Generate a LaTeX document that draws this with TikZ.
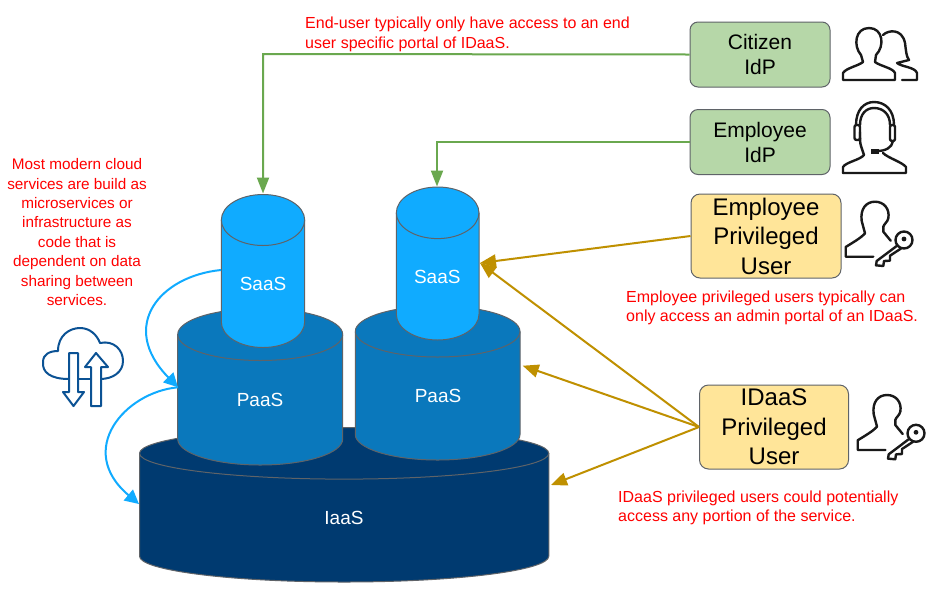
\documentclass[tikz,border=0pt]{standalone}
\usepackage{fontspec}
\setmainfont{Liberation Sans}
\usetikzlibrary{arrows.meta}
\definecolor{cgreen}{HTML}{B6D7A8}
\definecolor{cyellow}{HTML}{FFE599}
\definecolor{cline}{HTML}{5F6368}
\definecolor{ag}{HTML}{6AA84F}
\definecolor{ay}{HTML}{BF9000}
\definecolor{ab}{HTML}{10ABFF}
\definecolor{saasc}{HTML}{10ABFF}
\definecolor{paasc}{HTML}{0A78BC}
\definecolor{iaasc}{HTML}{003A70}
\definecolor{iconb}{HTML}{0B5294}
\tikzset{
  idp/.style={draw=cline,line width=1pt,fill=cgreen,rounded corners=8pt,minimum width=140pt,minimum height=65pt,align=center,font=\fontsize{21}{25}\selectfont,inner sep=0pt},
  priv/.style={draw=cline,line width=1pt,fill=cyellow,rounded corners=9pt,minimum width=149pt,minimum height=84pt,align=center,font=\fontsize{24}{29.5}\selectfont,inner sep=0pt},
  note/.style={text=red,font=\fontsize{16}{19.5}\selectfont,inner sep=0pt},
  cyllabel/.style={text=white,font=\fontsize{19}{22}\selectfont,inner sep=0pt},
  gline/.style={draw=ag,line width=2pt,-{Triangle[length=16pt,width=12pt]}},
  yline/.style={draw=ay,line width=2pt,-{Triangle[length=16pt,width=13pt]}},
  bline/.style={draw=ab,line width=2pt,-{Triangle[length=14pt,width=14pt]}},
  icon/.style={draw=black!90,line width=2.4pt,line join=round,line cap=round,fill=none},
}
% name, xl, xr, top of upper ellipse, bottom, ry, colour
\newcommand{\cylshape}[7]{%
  \pgfmathsetmacro{\cx}{(#2+#3)/2}\pgfmathsetmacro{\rx}{(#3-#2)/2}
  \pgfmathsetmacro{\ya}{#4+#6}\pgfmathsetmacro{\yb}{#5-#6}
  \pgfmathsetmacro{\kx}{0.5523*\rx}\pgfmathsetmacro{\ky}{0.5523*#6}
  \pgfmathsetmacro{\ca}{\cx-\kx}\pgfmathsetmacro{\cb}{\cx+\kx}
  \path[fill=#7,draw=cline,line width=1pt] (#2,\ya) .. controls (#2,\ya-\ky) and (\ca,#4) .. (\cx,#4) .. controls (\cb,#4) and (#3,\ya-\ky) .. (#3,\ya) -- (#3,\yb) .. controls (#3,\yb+\ky) and (\cb,#5) .. (\cx,#5) .. controls (\ca,#5) and (#2,\yb+\ky) .. (#2,\yb) -- cycle;
  \draw[cline,line width=1pt] (#2,\ya) .. controls (#2,\ya+\ky) and (\ca,\ya+#6) .. (\cx,\ya+#6) .. controls (\cb,\ya+#6) and (#3,\ya+\ky) .. (#3,\ya);
  \node[minimum width=#3pt-#2pt,minimum height=#5pt-#4pt,inner sep=0pt] (#1) at (\cx,{(#4+#5)/2}) {};
}
\newcommand{\keyperson}[2]{%
  \begin{scope}[shift={(#1,#2)}]
    \draw[icon] (29.3,55.7) -- (1.7,55.7) -- (1.7,46) .. controls (8,42) and (17,37) .. (21,32.3) -- (17.7,20) .. controls (16,8) and (22,0.7) .. (31,0.7) .. controls (40,0.7) and (46,8) .. (44.3,17.3) .. controls (43.5,21) and (40,23) .. (39.3,25.7) -- (39.3,30.7) -- (46.7,39.7);
    \draw[icon] (60,39) circle[radius=8.5];
    \draw[icon] (53.3,44.5) -- (32.7,60) -- (32,64.3) -- (39.3,65) -- (40,60) -- (46,59.7) -- (46,54.7) -- (57,47.5);
    \fill[black!90] (60,38) circle[radius=2.4];
  \end{scope}}
\begin{document}
\begin{tikzpicture}[x=1pt,y=-1pt]
\useasboundingbox (0,0) rectangle (936,590);
\fill[white] (0,0) rectangle (936,590);

\cylshape{iaas}{139.5}{548.8}{427.5}{582}{25.8}{iaasc}
\cylshape{paasl}{177.7}{342.7}{308.5}{465}{26}{paasc}
\cylshape{paasr}{355.3}{520}{306}{460}{25.5}{paasc}
\cylshape{saasl}{221.3}{304.7}{194.5}{347.5}{25.5}{saasc}
\cylshape{saasr}{396.3}{479}{187}{340}{25.8}{saasc}
\node[cyllabel] (liaas) at (344,518) {IaaS};
\node[cyllabel] (lpaasl) at (260,400) {PaaS};
\node[cyllabel] (lpaasr) at (438,396) {PaaS};
\node[cyllabel] (lsaasl) at (263,283.5) {SaaS};
\node[cyllabel] (lsaasr) at (437.3,277) {SaaS};

\node[idp] (citizen) at (760,54.5) {Citizen\\IdP};
\node[idp] (employee) at (760,142) {Employee\\IdP};
\node[priv,minimum width=150pt] (emppriv) at (766,236) {Employee\\Privileged\\User};
\node[priv] (idaaspriv) at (774,427) {IDaaS\\Privileged\\User};

\coordinate (gsl) at (263,193.5);
\coordinate (gsr) at (437,186.5);
\coordinate (ysr) at (480,263);
\coordinate (ypr) at (522.7,365.7);
\coordinate (yia) at (551,485);
\coordinate (bs) at (221,270);
\coordinate (bp) at (178,387.3);
\coordinate (bi) at (139,504);

\draw[gline] (citizen.west) -- (263,54) -- (gsl);
\draw[gline] (employee.west) -- (437,142) -- (gsr);
\draw[yline] (emppriv.west) -- (ysr);
\draw[yline] (idaaspriv.west) -- (ysr);
\draw[yline] (idaaspriv.west) -- (ypr);
\draw[yline] (idaaspriv.west) -- (yia);
\draw[bline] (bs) .. controls (160,276) and (118,326) .. (bp);
\draw[bline] (bp) .. controls (125,392) and (75,450) .. (bi);

\node[note,anchor=north west,align=left] (n1) at (305,17) {End-user typically only have access to an end\\user specific portal of IDaaS.};
\node[note,anchor=north,align=center,font=\fontsize{15.3}{19.4}\selectfont] (n2) at (77,158.5) {Most modern cloud\\services are build as\\microservices or\\infrastructure as\\code that is\\dependent on data\\sharing between\\services.};
\node[note,anchor=north west,align=left] (n3) at (626,290.5) {Employee privileged users typically can\\only access an admin portal of an IDaaS.};
\node[note,anchor=north west,align=left] (n4) at (618,490.5) {IDaaS privileged users could potentially\\access any portion of the service.};

% citizen icon
\draw[icon] (895,80) -- (843,80) -- (843,73) .. controls (846,68) and (858,66) .. (863,62) -- (861,55) .. controls (853,46) and (855,28) .. (869,28) .. controls (883,28) and (885,46) .. (876,55) -- (875,62) .. controls (880,66) and (893,68) .. (895,73) -- cycle;
\draw[icon] (883,35) .. controls (888,30) and (902,28) .. (905,43) .. controls (906,50) and (906,56) .. (909,60) -- (897,63) .. controls (902,67) and (915,67) .. (917,73) -- (917,80) -- (902,80);
% employee icon
\draw[icon] (843,173) -- (906,173) -- (906,167) .. controls (902,162) and (888,158) .. (883,153);
\draw[icon] (843,173) -- (843,167) .. controls (846,162) and (860,160) .. (864,155) -- (861,146);
\draw[icon] (856,125) .. controls (856,110) and (864,102) .. (874,102) .. controls (885,102) and (894,110) .. (894,125);
\draw[icon] (860,125) .. controls (860,114) and (866,108) .. (874,108) .. controls (883,108) and (890,114) .. (890,125);
\draw[icon,rounded corners=2pt] (854.5,125) rectangle (860,140);
\draw[icon,rounded corners=2pt] (890,125) rectangle (895,141);
\draw[icon] (860,132) .. controls (860,140) and (860,143) .. (861,146);
\draw[icon] (893,141) .. controls (892,148) and (885,151) .. (877,151);
\fill[black!90] (871,148.5) rectangle (879,153.5);

\keyperson{844}{201}
\keyperson{856}{394.3}

% cloud icon
\begin{scope}[iconb,line width=2pt,line join=round]
\draw (69,379) .. controls (50,379) and (42,372) .. (43,362) .. controls (43,354) and (50,351) .. (58,351) .. controls (58,335) and (70,328) .. (80,328) .. controls (90,328) and (97,335) .. (100,343) .. controls (114,340) and (123,350) .. (123,361) .. controls (123,372) and (113,379) .. (100,379);
\draw[fill=white] (69,353) -- (78,353) -- (78,392) -- (84,392) -- (73.5,406) -- (63,392) -- (69,392) -- cycle;
\draw[fill=white] (91,406) -- (101,406) -- (101,367) -- (108,367) -- (96,353) -- (85,367) -- (91,367) -- cycle;
\draw (78,379) -- (91,379);
\end{scope}
\end{tikzpicture}
\end{document}
